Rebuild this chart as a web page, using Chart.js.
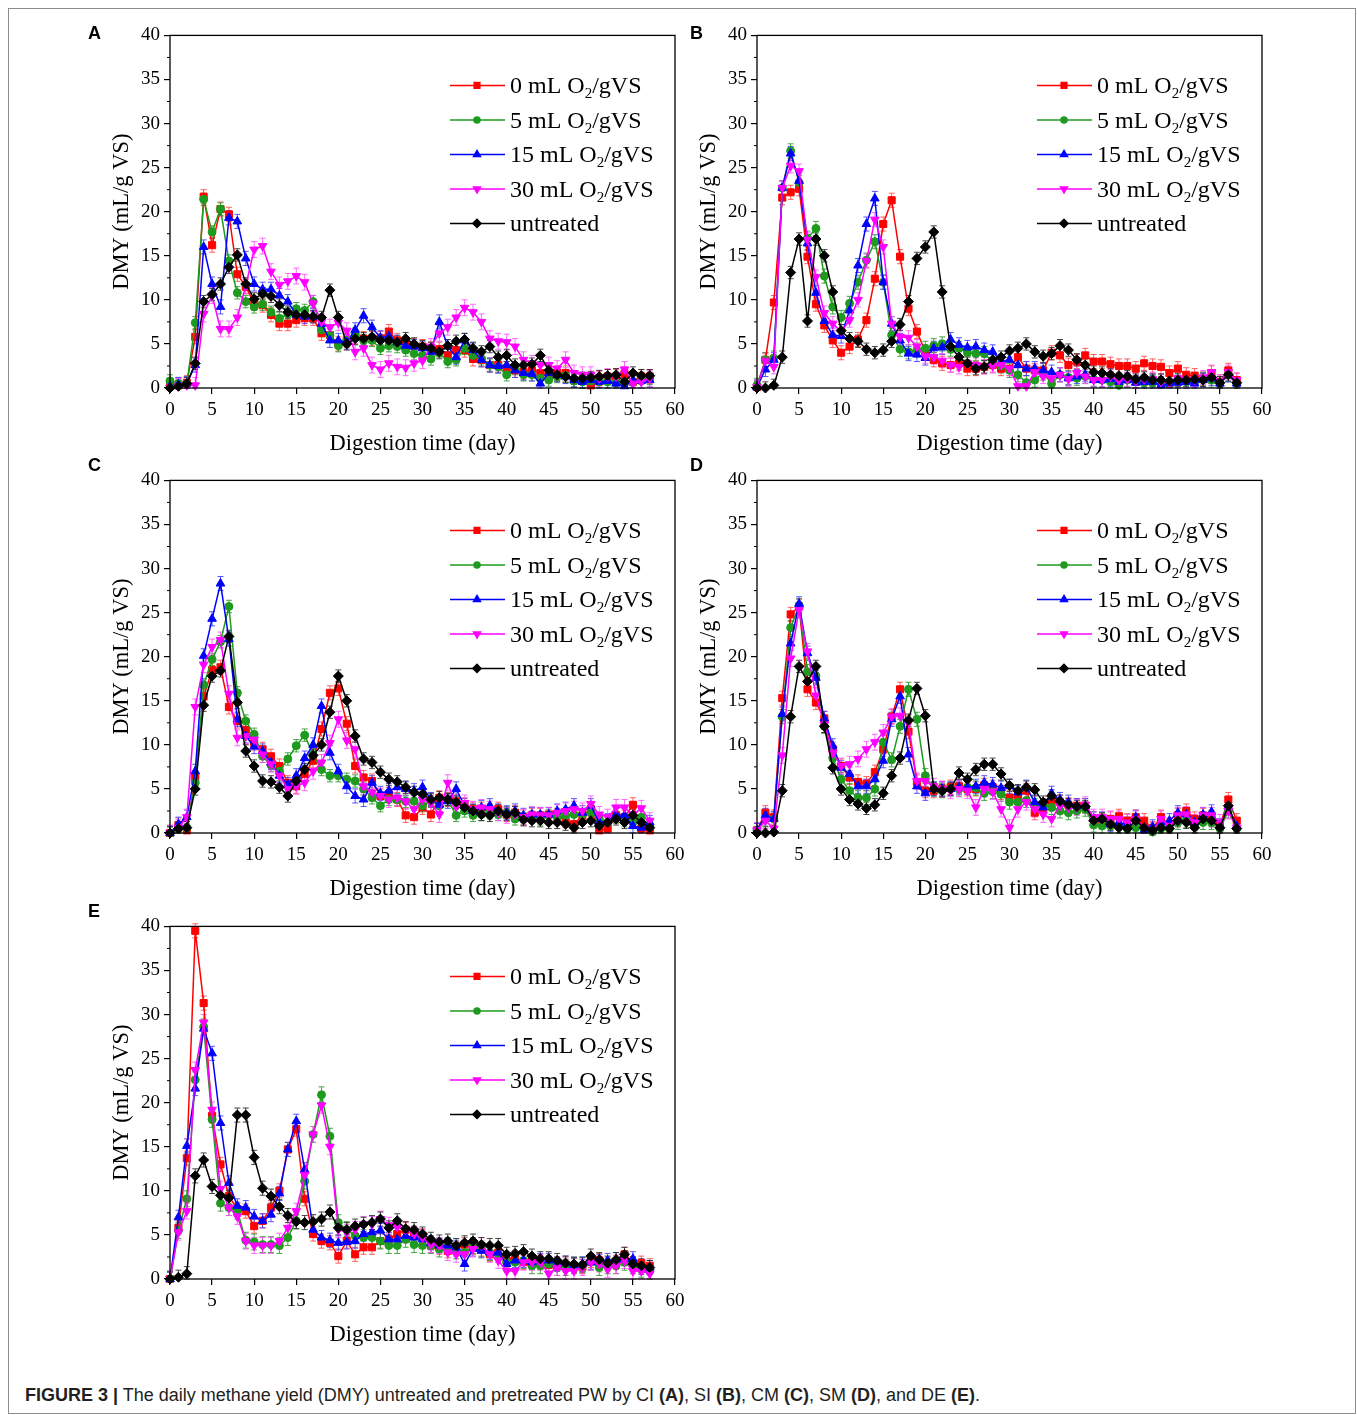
<!DOCTYPE html>
<html lang="en">
<head>
<meta charset="UTF-8" />
<title>Daily methane yield</title>
<script src="https://cdn.jsdelivr.net/npm/chart.js"></script>
<style>
  body { margin: 0; background: #ffffff; width: 1357px; height: 1415px; position: relative; overflow: hidden; }
  .frame { position: absolute; left: 8px; top: 8px; width: 1348px; height: 1406px; border: 1px solid #8c8c8c; box-sizing: border-box; }
  canvas { position: absolute; }
  .tag { position: absolute; font-family: 'Liberation Sans', Arial, sans-serif; font-weight: bold; font-size: 18px; color: #000; }
  .caption { position: absolute; left: 25px; top: 1385px; font-family: 'Liberation Sans', Arial, sans-serif; font-size: 18px; color: #231f20; white-space: nowrap; }
</style>
</head>
<body>
<div class="frame"></div>
<canvas id="panelA" width="600" height="450" style="left:100px;top:20px"></canvas>
<canvas id="panelB" width="600" height="450" style="left:687px;top:20px"></canvas>
<canvas id="panelC" width="600" height="450" style="left:100px;top:465px"></canvas>
<canvas id="panelD" width="600" height="450" style="left:687px;top:465px"></canvas>
<canvas id="panelE" width="600" height="450" style="left:100px;top:911px"></canvas>
<div class="tag" style="left:88px;top:23px">A</div>
<div class="tag" style="left:690px;top:23px">B</div>
<div class="tag" style="left:88px;top:455px">C</div>
<div class="tag" style="left:690px;top:455px">D</div>
<div class="tag" style="left:88px;top:901px">E</div>
<div class="caption"><b>FIGURE 3 |</b> The daily methane yield (DMY) untreated and pretreated PW by CI <b>(A)</b>, SI <b>(B)</b>, CM <b>(C)</b>, SM <b>(D)</b>, and DE <b>(E)</b>.</div>

<script>
  // days of digestion
  const days = [0, 1, 2, 3, 4, 5, 6, 7, 8, 9, 10, 11, 12, 13, 14, 15, 16, 17, 18, 19,
    20, 21, 22, 23, 24, 25, 26, 27, 28, 29, 30, 31, 32, 33, 34, 35, 36, 37, 38, 39,
    40, 41, 42, 43, 44, 45, 46, 47, 48, 49, 50, 51, 52, 53, 54, 55, 56, 57];
  const xTicks = [0, 5, 10, 15, 20, 25, 30, 35, 40, 45, 50, 55, 60];
  const yTicks = [0, 5, 10, 15, 20, 25, 30, 35, 40];
  const legendLabels = ['0 mL O2/gVS', '5 mL O2/gVS', '15 mL O2/gVS', '30 mL O2/gVS', 'untreated'];

  // panel A (CI)
  const A0 = [0.2, 0.3, 0.6, 5.8, 21.7, 16.2, 20.3, 19.7, 12.9, 11.5, 9.6, 9.4, 8.3, 7.3, 7.3, 7.7, 7.9, 7.9, 6.2, 6.0,
    5.0, 5.4, 5.8, 5.6, 5.6, 5.6, 6.4, 5.4, 5.0, 4.8, 4.7, 4.4, 4.4, 3.7, 4.3, 4.3, 3.3, 3.2, 2.6, 2.6,
    2.2, 2.0, 1.8, 2.0, 1.7, 1.5, 1.7, 1.7, 0.9, 0.8, 0.3, 1.1, 1.3, 1.3, 1.6, 0.7, 1.3, 1.3];
  const A5 = [0.8, 0.5, 0.5, 7.4, 21.4, 17.7, 20.3, 14.4, 10.8, 9.8, 9.2, 9.5, 8.6, 7.9, 8.4, 9.0, 8.8, 9.8, 6.6, 6.0,
    4.8, 5.4, 6.1, 5.4, 5.4, 4.5, 4.8, 4.7, 4.3, 3.9, 3.7, 3.3, 4.0, 3.0, 3.2, 4.5, 3.7, 3.3, 2.6, 2.4,
    1.5, 2.2, 1.5, 1.5, 1.1, 0.9, 1.3, 1.4, 0.8, 0.7, 0.8, 0.7, 0.7, 0.6, 0.5, 0.7, 1.1, 1.1];
  const A15 = [0.2, 0.4, 0.5, 2.6, 16.0, 11.8, 9.2, 19.3, 18.9, 14.7, 11.8, 11.2, 11.2, 10.5, 9.8, 8.3, 8.1, 8.2, 7.3, 5.4,
    5.4, 5.2, 6.6, 8.2, 6.9, 5.7, 5.9, 5.2, 4.8, 4.7, 4.5, 4.1, 7.5, 4.7, 3.5, 5.4, 4.3, 3.2, 2.6, 2.5,
    2.6, 2.0, 1.7, 1.6, 0.5, 1.7, 1.5, 1.3, 0.9, 0.7, 0.9, 0.7, 0.8, 0.5, 0.2, 0.9, 0.8, 0.9];
  const A30 = [0.0, 0.2, 0.3, 0.3, 8.4, 10.5, 6.7, 6.7, 8.0, 11.6, 15.7, 16.1, 13.2, 11.7, 12.1, 12.7, 12.0, 9.6, 7.5, 6.9,
    7.4, 6.5, 4.1, 4.5, 2.6, 2.1, 2.8, 2.4, 2.3, 2.8, 3.1, 4.7, 6.2, 6.9, 8.0, 9.1, 8.6, 7.5, 5.6, 5.3,
    5.2, 4.7, 3.2, 2.8, 2.6, 2.6, 2.2, 3.2, 1.7, 1.5, 1.5, 1.1, 1.3, 1.3, 2.1, 0.5, 0.7, 1.1];
  const AU = [0.0, 0.2, 0.5, 2.8, 9.8, 10.6, 11.8, 13.7, 15.1, 11.8, 10.1, 10.7, 10.4, 9.4, 8.6, 8.3, 8.3, 8.1, 8.0, 11.1,
    8.0, 5.0, 5.6, 5.6, 5.8, 5.4, 5.4, 5.2, 5.6, 5.0, 4.7, 4.5, 4.1, 4.8, 5.3, 5.5, 4.5, 4.1, 4.7, 3.5,
    3.7, 2.6, 2.6, 2.7, 3.7, 2.0, 1.5, 1.3, 1.1, 1.1, 1.2, 1.3, 1.4, 1.5, 0.7, 1.7, 1.4, 1.4];

  // panel B (SI)
  const B0 = [0.1, 3.2, 9.7, 21.6, 22.2, 22.6, 14.9, 9.5, 7.1, 5.4, 4.0, 4.7, 5.5, 7.7, 12.4, 18.6, 21.3, 14.9, 9.0, 6.4,
    4.1, 3.2, 2.8, 2.6, 2.8, 2.2, 2.2, 2.4, 2.6, 2.2, 2.2, 3.5, 2.2, 2.0, 2.0, 4.0, 3.7, 2.6, 3.0, 3.7,
    3.0, 3.0, 2.7, 2.5, 2.5, 2.2, 2.8, 2.5, 2.4, 1.7, 2.2, 1.5, 1.4, 1.0, 1.7, 0.7, 2.0, 0.9];
  const B5 = [0.3, 3.2, 3.4, 22.7, 26.9, 23.3, 17.0, 18.1, 12.7, 9.2, 8.0, 9.6, 12.0, 14.5, 16.6, 12.0, 6.0, 4.4, 4.1, 4.3,
    4.5, 4.8, 5.0, 4.4, 4.5, 4.0, 3.9, 3.9, 3.0, 2.5, 2.0, 1.5, 0.6, 0.9, 1.7, 0.5, 1.5, 1.2, 1.1, 1.3,
    1.0, 0.9, 0.7, 0.3, 0.9, 0.7, 0.6, 0.6, 0.5, 0.5, 0.9, 0.7, 0.7, 1.0, 0.9, 0.5, 1.5, 0.5];
  const B15 = [0.1, 2.1, 3.2, 22.7, 26.6, 23.5, 16.4, 10.8, 7.6, 6.0, 5.9, 8.8, 13.9, 18.6, 21.5, 12.0, 7.3, 5.4, 3.9, 3.8,
    3.4, 4.5, 4.6, 5.5, 4.9, 4.6, 4.7, 4.3, 4.1, 3.0, 3.2, 2.6, 2.2, 2.2, 2.0, 1.8, 1.5, 1.1, 1.3, 1.5,
    0.9, 0.9, 1.0, 0.7, 0.9, 0.6, 0.7, 0.7, 0.3, 0.5, 0.6, 0.7, 0.5, 0.9, 1.1, 0.5, 1.5, 0.5];
  const B30 = [0.1, 3.1, 2.4, 22.7, 25.2, 24.6, 16.8, 12.6, 8.5, 7.3, 6.4, 7.7, 10.0, 14.4, 19.1, 16.0, 7.3, 5.8, 5.7, 4.7,
    3.6, 3.5, 3.1, 2.6, 2.4, 2.8, 2.6, 2.4, 2.5, 2.6, 2.2, 0.2, 0.2, 1.8, 1.3, 1.1, 1.5, 1.0, 1.7, 1.3,
    0.9, 0.9, 1.3, 0.9, 1.0, 0.8, 1.0, 1.0, 0.7, 0.6, 1.1, 0.9, 0.9, 1.2, 1.8, 0.7, 1.8, 0.9];
  const BU = [0.0, 0.0, 0.3, 3.5, 13.1, 16.9, 7.6, 16.9, 15.0, 10.9, 6.5, 5.6, 5.3, 4.4, 4.0, 4.3, 5.3, 7.2, 9.8, 14.7,
    16.0, 17.7, 10.9, 4.7, 3.5, 2.8, 2.2, 2.4, 3.2, 3.5, 4.2, 4.5, 5.0, 4.1, 3.6, 3.9, 4.8, 4.3, 3.2, 2.6,
    1.8, 1.7, 1.5, 1.4, 1.3, 1.0, 1.2, 0.9, 0.9, 0.8, 0.9, 0.9, 1.0, 0.9, 1.2, 0.6, 1.5, 0.6];

  // panel C (CM)
  const C0 = [0.0, 0.9, 0.3, 6.3, 15.5, 18.5, 18.8, 14.3, 12.7, 11.7, 10.2, 9.5, 8.7, 7.6, 5.7, 5.3, 6.7, 8.2, 11.8, 15.9,
    16.4, 12.4, 7.6, 6.3, 5.9, 4.2, 4.4, 3.8, 2.0, 1.8, 2.9, 2.1, 4.0, 3.8, 3.6, 3.2, 2.7, 2.7, 2.5, 2.7,
    2.1, 2.3, 1.8, 2.0, 2.0, 2.1, 2.0, 1.4, 1.0, 2.0, 2.7, 0.3, 0.5, 2.0, 1.8, 3.2, 0.5, 0.3];
  const C5 = [0.0, 0.5, 0.6, 5.7, 16.8, 19.7, 21.7, 25.7, 15.9, 12.7, 11.2, 8.7, 7.7, 7.0, 8.4, 9.9, 11.1, 8.9, 7.2, 6.5,
    6.5, 6.1, 5.9, 5.0, 4.0, 3.1, 3.8, 3.8, 3.6, 3.6, 3.1, 3.6, 3.1, 3.8, 2.0, 2.5, 2.0, 2.1, 2.3, 2.1,
    2.3, 1.6, 1.6, 1.8, 1.6, 2.0, 1.8, 2.0, 2.1, 2.1, 2.3, 1.6, 1.2, 1.8, 1.4, 1.2, 1.8, 0.8];
  const C15 = [0.0, 1.0, 1.8, 7.0, 20.1, 24.3, 28.3, 22.0, 12.9, 11.0, 9.8, 9.3, 8.0, 6.5, 5.5, 6.5, 8.5, 10.0, 14.4, 9.1,
    7.0, 5.3, 4.2, 3.8, 5.7, 4.5, 4.8, 5.2, 5.0, 4.8, 5.2, 3.8, 3.2, 3.6, 5.0, 3.1, 2.5, 2.9, 3.1, 2.5,
    2.3, 2.5, 2.0, 2.1, 2.1, 2.1, 2.5, 2.7, 3.1, 2.3, 3.1, 1.2, 1.4, 2.1, 2.0, 0.8, 0.6, 1.2];
  const C30 = [0.0, 0.6, 1.8, 14.3, 19.1, 21.1, 21.9, 15.8, 10.8, 11.0, 10.6, 8.9, 7.8, 6.5, 5.0, 5.3, 5.7, 7.0, 8.0, 10.2,
    12.9, 10.5, 9.5, 5.3, 4.6, 4.2, 3.8, 4.0, 3.6, 2.7, 3.8, 3.4, 2.1, 5.7, 3.0, 3.4, 2.7, 2.9, 2.7, 2.3,
    2.0, 2.1, 1.8, 2.1, 2.0, 2.0, 2.3, 2.5, 2.7, 2.5, 3.3, 2.1, 1.8, 2.9, 2.9, 2.1, 2.8, 1.4];
  const CU = [0.0, 0.5, 0.6, 5.0, 14.5, 17.8, 18.4, 22.3, 14.8, 9.3, 7.6, 5.9, 5.8, 5.2, 4.2, 5.9, 7.2, 8.8, 10.0, 13.7,
    17.8, 15.0, 11.0, 8.4, 8.0, 6.9, 6.1, 5.8, 5.2, 4.6, 4.4, 3.8, 4.0, 3.8, 3.5, 2.9, 2.5, 2.1, 2.0, 2.5,
    2.1, 2.3, 1.5, 1.4, 1.4, 1.2, 1.2, 1.0, 0.6, 1.2, 1.4, 0.8, 1.2, 1.6, 1.2, 2.0, 1.2, 0.6];

  // panel D (SM)
  const D0 = [0.3, 2.3, 1.8, 15.3, 24.8, 25.7, 16.3, 14.8, 13.0, 9.5, 7.6, 6.3, 5.8, 5.6, 6.9, 9.5, 13.2, 16.3, 11.5, 5.8,
    4.8, 4.8, 5.0, 5.2, 5.3, 5.0, 5.0, 5.4, 5.2, 4.6, 4.0, 4.2, 4.8, 2.3, 2.8, 3.5, 3.5, 3.2, 3.1, 3.1,
    1.6, 1.4, 1.6, 1.9, 1.4, 1.8, 1.4, 0.5, 1.8, 0.8, 2.0, 2.5, 1.6, 2.0, 1.8, 0.8, 3.8, 1.4];
  const D5 = [0.3, 1.6, 1.6, 13.2, 23.3, 25.8, 18.3, 17.8, 12.1, 8.5, 6.1, 4.8, 4.0, 4.0, 5.0, 10.3, 8.3, 12.1, 16.3, 12.9,
    6.5, 5.0, 4.8, 5.0, 5.0, 5.2, 5.1, 4.5, 4.7, 4.4, 3.5, 3.5, 3.7, 3.1, 3.1, 2.9, 2.5, 2.3, 2.5, 2.7,
    0.9, 0.8, 0.8, 0.8, 0.5, 0.6, 0.5, 0.1, 0.5, 0.5, 1.2, 1.4, 0.8, 1.2, 1.2, 0.5, 2.5, 0.5];
  const D15 = [0.3, 2.0, 1.6, 13.5, 21.5, 26.0, 20.4, 17.6, 13.0, 9.9, 7.4, 6.7, 5.3, 5.3, 6.1, 8.2, 12.9, 15.5, 8.9, 5.3,
    4.5, 5.0, 5.0, 5.0, 5.2, 5.2, 5.3, 5.7, 5.5, 5.1, 5.3, 4.6, 5.2, 3.5, 2.9, 4.5, 3.8, 3.5, 3.1, 3.1,
    1.6, 1.6, 1.0, 1.2, 1.0, 1.8, 0.3, 0.7, 1.2, 1.4, 2.3, 2.1, 1.2, 2.1, 2.4, 0.8, 3.0, 0.8];
  const D30 = [0.3, 1.4, 0.5, 8.8, 19.8, 25.3, 20.6, 15.6, 12.3, 9.1, 7.6, 7.8, 8.4, 9.5, 10.3, 11.4, 13.2, 13.3, 12.5, 5.9,
    5.9, 5.3, 5.0, 4.8, 5.0, 4.8, 2.9, 5.0, 4.7, 2.7, 0.6, 2.7, 3.5, 2.7, 2.1, 1.6, 3.1, 2.9, 2.9, 3.2,
    1.8, 1.8, 1.6, 1.6, 1.2, 1.6, 0.6, 0.3, 1.6, 0.8, 2.0, 2.1, 1.2, 2.0, 2.0, 1.2, 2.5, 0.6];
  const DU = [0.0, 0.0, 0.1, 4.8, 13.2, 18.9, 17.2, 18.9, 12.1, 7.4, 5.0, 3.8, 3.3, 2.8, 3.2, 4.5, 6.5, 8.5, 12.8, 16.4,
    13.3, 5.0, 4.8, 5.0, 6.8, 6.1, 7.2, 7.8, 7.8, 6.7, 5.4, 4.8, 5.2, 4.9, 3.5, 4.2, 3.6, 3.2, 3.0, 3.0,
    1.4, 1.6, 1.0, 0.6, 0.5, 1.4, 0.6, 0.3, 0.6, 0.5, 1.4, 1.2, 0.6, 1.6, 1.4, 0.6, 3.1, 0.5];

  // panel E (DE)
  const E0 = [0.0, 5.8, 13.7, 39.5, 31.3, 18.5, 13.0, 9.4, 7.9, 7.7, 6.0, 6.6, 8.1, 10.0, 14.7, 17.0, 9.1, 5.1, 4.3, 4.1,
    2.6, 4.3, 2.8, 3.6, 3.6, 4.3, 4.5, 5.1, 5.6, 5.1, 4.9, 3.8, 3.6, 3.2, 3.4, 3.9, 3.6, 3.4, 2.8, 3.0,
    2.1, 2.4, 1.9, 2.0, 1.9, 1.6, 1.7, 1.6, 1.5, 1.4, 2.1, 2.1, 1.7, 1.9, 2.8, 1.7, 1.8, 1.5];
  const E5 = [0.0, 5.5, 9.1, 22.6, 28.6, 18.1, 8.6, 8.1, 7.7, 4.4, 4.2, 3.9, 3.9, 3.8, 4.7, 6.6, 11.1, 16.4, 20.9, 16.2,
    6.4, 5.6, 4.9, 4.7, 4.7, 4.3, 3.8, 3.8, 4.5, 3.9, 3.8, 3.8, 3.4, 3.8, 3.2, 3.0, 3.8, 3.4, 3.0, 2.8,
    1.9, 1.9, 2.1, 1.5, 1.5, 1.7, 1.3, 1.3, 1.5, 1.6, 1.9, 1.3, 1.5, 1.5, 1.9, 1.5, 1.1, 0.9];
  const E15 = [0.0, 7.0, 15.1, 21.6, 28.4, 25.6, 17.7, 10.9, 8.3, 8.1, 7.1, 6.6, 7.3, 9.7, 14.7, 17.9, 12.4, 5.6, 4.7, 4.4,
    4.1, 4.2, 4.3, 5.1, 5.3, 5.5, 4.5, 4.5, 4.9, 4.7, 4.5, 4.1, 3.8, 3.8, 3.6, 1.7, 3.4, 3.2, 3.0, 3.0,
    1.7, 2.1, 2.1, 1.9, 2.1, 2.1, 1.7, 1.8, 1.6, 1.7, 1.9, 2.0, 2.1, 2.2, 2.3, 2.3, 1.3, 1.3];
  const E30 = [0.0, 5.3, 7.7, 23.7, 29.1, 19.2, 10.2, 8.1, 7.1, 4.3, 3.8, 3.8, 3.8, 4.3, 5.8, 7.7, 11.8, 16.4, 19.7, 15.0,
    5.6, 5.3, 5.6, 6.2, 6.2, 6.8, 6.1, 5.9, 5.6, 5.1, 4.7, 3.9, 3.8, 3.0, 2.8, 2.8, 3.4, 3.8, 2.8, 2.1,
    0.9, 0.9, 1.9, 1.9, 1.9, 0.6, 1.3, 0.9, 0.9, 1.3, 1.9, 1.7, 1.1, 1.5, 2.1, 0.9, 0.9, 0.6];
  const EU = [0.0, 0.2, 0.6, 11.7, 13.5, 10.5, 9.5, 9.2, 18.6, 18.6, 13.8, 10.3, 9.4, 8.2, 7.2, 6.5, 6.4, 6.5, 6.8, 7.6,
    5.8, 5.6, 6.0, 6.2, 6.4, 6.8, 5.8, 6.6, 5.7, 5.6, 5.1, 4.5, 4.2, 4.3, 3.8, 4.1, 4.3, 3.9, 3.8, 3.8,
    2.8, 2.9, 3.1, 2.6, 2.3, 2.3, 2.1, 1.8, 1.7, 1.6, 2.6, 2.2, 1.8, 2.2, 2.8, 1.7, 1.5, 1.3];

  // half-length of the error bars, one per series
  const errA = [0.8, 0.7, 0.8, 0.9, 0.7];
  const errB = [0.8, 0.8, 0.8, 0.8, 0.7];
  const errC = [0.8, 0.7, 0.8, 0.9, 0.7];
  const errD = [0.8, 0.8, 0.8, 0.9, 0.7];
  const errE = [0.8, 0.9, 0.8, 0.9, 0.8];

  const colors = ['#ff0000', '#1e9a1e', '#0000ff', '#ff00ff', '#000000'];
  const barColors = ['rgba(255,70,70,0.85)', 'rgba(40,150,40,0.85)', 'rgba(60,60,255,0.85)', 'rgba(255,80,255,0.85)', 'rgba(40,40,40,0.85)'];
  const styles = ['rect', 'circle', 'triangle', 'triangle', 'rectRot'];
  const rotations = [0, 0, 0, 180, 0];
  const radii = [5, 4, 5, 5, 5];
  const serif = '"Liberation Serif", "Times New Roman", serif';

  function drawLabel(ctx, text, x, y) {
    const big = '24px ' + serif, small = '15px ' + serif;
    const base = y + 8;
    ctx.fillStyle = '#000';
    ctx.textAlign = 'left';
    ctx.textBaseline = 'alphabetic';
    ctx.font = big;
    const parts = text.split('O2');
    if (parts.length === 1) { ctx.fillText(text, x, base); return; }
    ctx.fillText(parts[0] + 'O', x, base);
    let w = ctx.measureText(parts[0] + 'O').width;
    ctx.font = small;
    ctx.fillText('2', x + w, base + 5);
    w += ctx.measureText('2').width;
    ctx.font = big;
    ctx.fillText(parts[1], x + w, base);
  }

  const errorBars = {
    id: 'errorBars',
    beforeDatasetsDraw(chart) {
      const ctx = chart.ctx, ys = chart.scales.y;
      chart.data.datasets.forEach((ds, i) => {
        const meta = chart.getDatasetMeta(i);
        ctx.save();
        ctx.strokeStyle = ds.barColor;
        ctx.lineWidth = 1;
        meta.data.forEach((pt, j) => {
          const v = ds.data[j].y;
          const t = ys.getPixelForValue(v + ds.errorSize);
          const b = ys.getPixelForValue(Math.max(0, v - ds.errorSize));
          ctx.beginPath();
          ctx.moveTo(pt.x, t); ctx.lineTo(pt.x, b);
          ctx.moveTo(pt.x - 3, t); ctx.lineTo(pt.x + 3, t);
          ctx.moveTo(pt.x - 3, b); ctx.lineTo(pt.x + 3, b);
          ctx.stroke();
        });
        ctx.restore();
      });
    }
  };

  const frameAndLegend = {
    id: 'frameAndLegend',
    afterDraw(chart) {
      const ctx = chart.ctx, a = chart.chartArea, ys = chart.scales.y;
      ctx.save();
      ctx.strokeStyle = '#000';
      ctx.lineWidth = 1.3;
      ctx.strokeRect(a.left, a.top, a.right - a.left, a.bottom - a.top);
      // minor ticks on the y axis
      ctx.lineWidth = 1;
      ctx.beginPath();
      for (let k = 0; k < yTicks.length - 1; k++) {
        const py = ys.getPixelForValue((yTicks[k] + yTicks[k + 1]) / 2);
        ctx.moveTo(a.left, py); ctx.lineTo(a.left - 3, py);
      }
      ctx.stroke();
      // legend
      chart.data.datasets.forEach((ds, i) => {
        const y = a.top + 50 + i * 34.5;
        const x0 = a.left + 280;
        ctx.strokeStyle = ds.borderColor;
        ctx.lineWidth = 1.5;
        ctx.beginPath(); ctx.moveTo(x0, y); ctx.lineTo(x0 + 55, y); ctx.stroke();
        ctx.fillStyle = ds.borderColor;
        Chart.helpers.drawPoint(ctx, { pointStyle: ds.pointStyle, rotation: ds.pointRotation, radius: ds.pointRadius - 1, borderWidth: 1 }, x0 + 27, y);
        drawLabel(ctx, ds.label, x0 + 60, y);
      });
      ctx.restore();
    }
  };

  function makePanel(id, series, errs) {
    const tickFont = { family: serif, size: 19 };
    const titleFont = { family: serif, size: 22.5 };
    new Chart(document.getElementById(id), {
      type: 'line',
      data: {
        datasets: series.map((vals, k) => ({
          label: legendLabels[k],
          data: days.map((d, i) => ({ x: d, y: vals[i] })),
          borderColor: colors[k],
          backgroundColor: colors[k],
          pointStyle: styles[k],
          pointRotation: rotations[k],
          pointRadius: radii[k],
          pointBorderWidth: 1,
          borderWidth: 1.5,
          tension: 0,
          clip: false,
          order: 5 - k,
          errorSize: errs[k],
          barColor: barColors[k]
        }))
      },
      options: {
        responsive: false,
        animation: false,
        events: [],
        layout: { padding: { top: 13, right: 25, left: 0, bottom: 0 } },
        plugins: { legend: { display: false }, tooltip: { enabled: false } },
        scales: {
          x: {
            type: 'linear', min: xTicks[0], max: xTicks[xTicks.length - 1],
            afterBuildTicks(s) { s.ticks = xTicks.map(v => ({ value: v })); },
            afterFit(s) { s.height = 82; },
            ticks: { color: '#000', font: tickFont, padding: 5, maxRotation: 0, autoSkip: false },
            grid: { drawOnChartArea: false, tickLength: 6, color: '#000', lineWidth: 1.2 },
            border: { display: false },
            title: { display: true, text: 'Digestion time (day)', color: '#000', font: titleFont, padding: { top: 0, bottom: 12 } }
          },
          y: {
            min: yTicks[0], max: yTicks[yTicks.length - 1],
            afterBuildTicks(s) { s.ticks = yTicks.map(v => ({ value: v })); },
            afterFit(s) { s.width = 70; },
            ticks: { color: '#000', font: tickFont, padding: 4, autoSkip: false },
            grid: { drawOnChartArea: false, tickLength: 6, color: '#000', lineWidth: 1.2 },
            border: { display: false },
            title: { display: true, text: 'DMY (mL/g VS)', color: '#000', font: titleFont, padding: { top: 8.5, bottom: 0 } }
          }
        }
      },
      plugins: [errorBars, frameAndLegend]
    });
  }

  makePanel('panelA', [A0, A5, A15, A30, AU], errA);
  makePanel('panelB', [B0, B5, B15, B30, BU], errB);
  makePanel('panelC', [C0, C5, C15, C30, CU], errC);
  makePanel('panelD', [D0, D5, D15, D30, DU], errD);
  makePanel('panelE', [E0, E5, E15, E30, EU], errE);
</script>
</body>
</html>
